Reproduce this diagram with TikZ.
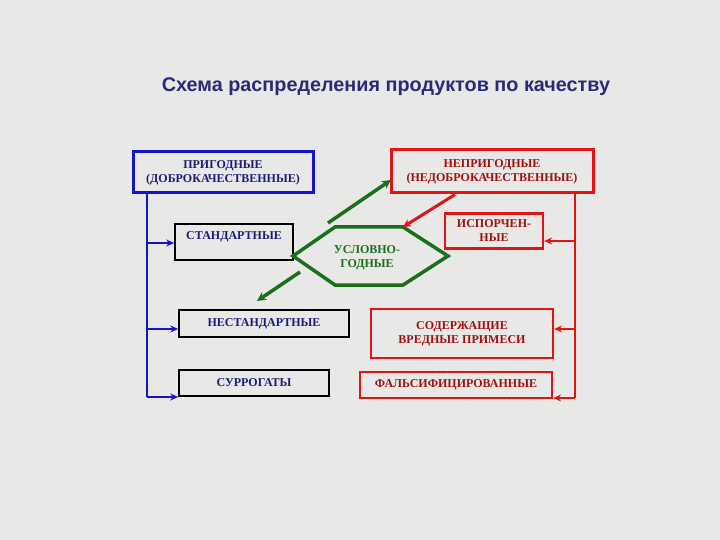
\documentclass[tikz,border=0pt]{standalone}
\usepackage{fontspec}
\setmainfont{Liberation Serif}
\newfontfamily\titlefont{Liberation Sans}
\usetikzlibrary{arrows.meta}
\definecolor{bgc}{HTML}{E8E8E6}
\definecolor{bluebd}{HTML}{1414C8}
\definecolor{bluetx}{HTML}{1C1C78}
\definecolor{redbd}{HTML}{E01414}
\definecolor{redtx}{HTML}{A01010}
\definecolor{grn}{HTML}{1B6E1B}
\definecolor{ttl}{HTML}{2A2A78}
\tikzset{
  box/.style={draw, rectangle, align=center, inner sep=0pt,
    font=\fontsize{12}{14}\selectfont\bfseries},
  bluebox/.style={box, draw=bluebd, line width=3pt, text=bluetx},
  redbox/.style={box, draw=redbd, line width=2.2pt, text=redtx},
  blackbox/.style={box, draw=black, line width=1.6pt, text=bluetx},
  barrow/.style={draw=bluebd, line width=2pt, -{Stealth[length=8pt,width=7pt]}},
  rarrow/.style={draw=redbd, line width=2pt, -{Stealth[length=8pt,width=7pt]}},
  garrow/.style={draw=grn, line width=3.5pt, -{Stealth[length=9pt,width=9pt]}},
}
\begin{document}
\begin{tikzpicture}[x=1pt,y=-1pt]
\useasboundingbox[fill=bgc] (0,0) rectangle (720,540);
\node[font=\titlefont\fontsize{19.8}{22}\selectfont\bfseries, text=ttl] (title) at (386,87) {Схема распределения продуктов по качеству};

\node[bluebox, minimum width=180pt, minimum height=41pt] (good) at (223,172.5) {ПРИГОДНЫЕ\\(ДОБРОКАЧЕСТВЕННЫЕ)};
\node[redbox, line width=3pt, minimum width=202pt, minimum height=43pt] (bad) at (492,171.5) {НЕПРИГОДНЫЕ\\(НЕДОБРОКАЧЕСТВЕННЫЕ)};

\node[blackbox, minimum width=118pt, minimum height=36pt, text depth=12pt] (std) at (234,242) {СТАНДАРТНЫЕ};
\node[blackbox, minimum width=170pt, minimum height=27pt] (nstd) at (264,323.5) {НЕСТАНДАРТНЫЕ};
\node[blackbox, minimum width=150pt, minimum height=26pt] (surr) at (254,383) {СУРРОГАТЫ};

\node[redbox, minimum width=98pt, minimum height=35pt] (spoil) at (494,231) {ИСПОРЧЕН-\\НЫЕ};
\node[redbox, minimum width=182pt, minimum height=49pt] (harm) at (462,333.5) {СОДЕРЖАЩИЕ\\ВРЕДНЫЕ ПРИМЕСИ};
\node[redbox, minimum width=192pt, minimum height=26pt] (fals) at (456,385) {ФАЛЬСИФИЦИРОВАННЫЕ};

% hexagon
\coordinate (hl) at (293,256);
\coordinate (htl) at (335,227);
\coordinate (htr) at (403,227);
\coordinate (hr) at (448,256);
\coordinate (hbr) at (403,285);
\coordinate (hbl) at (335,285);
\draw[grn, line width=3.5pt, line join=miter] (hl) -- (htl) -- (htr) -- (hr) -- (hbr) -- (hbl) -- cycle;
\node[font=\fontsize{12}{14}\selectfont\bfseries, text=grn, align=center] (cond) at (367,258) {УСЛОВНО-\\ГОДНЫЕ};

% green arrows
\coordinate (g1s) at (328,223);
\coordinate (g1e) at (391,180);
\coordinate (g2s) at (300,272);
\coordinate (g2e) at (257,301);
\draw[garrow] (g1s) -- (g1e);
\draw[garrow] (g2s) -- (g2e);

% red arrow from bad to hexagon
\draw[draw=redbd, line width=3pt, -{Stealth[length=8pt,width=8pt]}] (bad.south -| 455,0) -- (htr);

% blue tree
\coordinate (bt) at (147,193);
\coordinate (bb) at (147,397);
\draw[draw=bluebd, line width=2pt] (bt) -- (bb);
\draw[barrow] (147,243) -- (std.west |- 0,243);
\draw[barrow] (147,329) -- (nstd.west |- 0,329);
\draw[barrow] (bb) -- (surr.west |- 0,397);

% red tree
\coordinate (rt) at (575,193);
\coordinate (rb) at (575,398);
\draw[draw=redbd, line width=2pt] (rt) -- (rb);
\draw[rarrow] (575,241) -- (spoil.east |- 0,241);
\draw[rarrow] (575,329) -- (harm.east |- 0,329);
\draw[rarrow] (rb) -- (fals.east |- 0,398);
\end{tikzpicture}
\end{document}
